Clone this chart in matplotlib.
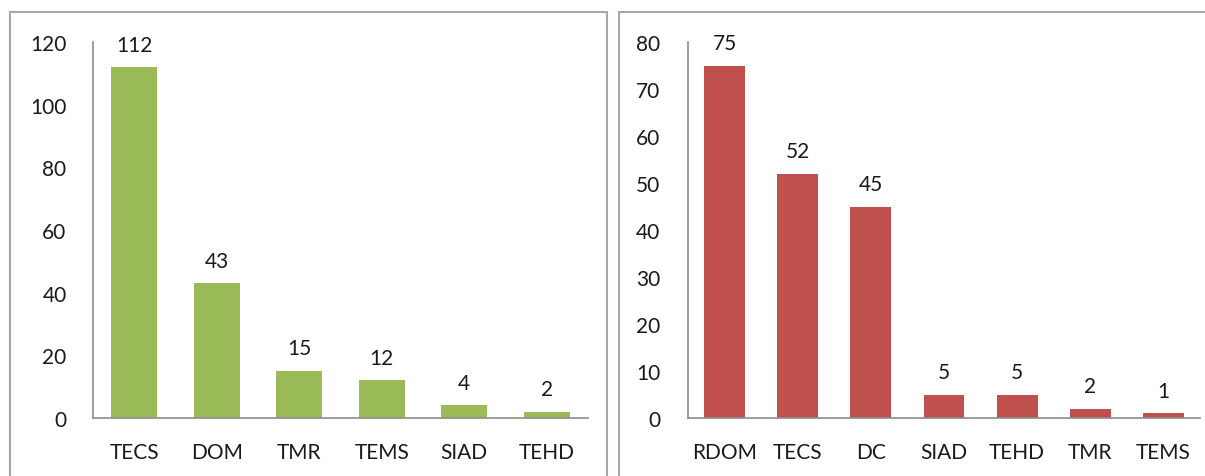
import matplotlib.pyplot as plt
from matplotlib.patches import Rectangle

left_cats = ['TECS', 'DOM', 'TMR', 'TEMS', 'SIAD', 'TEHD']
left_vals = [112, 43, 15, 12, 4, 2]
right_cats = ['RDOM', 'TECS', 'DC', 'SIAD', 'TEHD', 'TMR', 'TEMS']
right_vals = [75, 52, 45, 5, 5, 2, 1]

plt.rcParams['font.family'] = ['Lato', 'DejaVu Sans']

fig = plt.figure(figsize=(12.05, 4.77), dpi=100)

# panel frames
for x0, x1 in [(10, 607), (619, 1215)]:
    fig.patches.append(Rectangle((x0 / 1205, -0.1), (x1 - x0) / 1205, 1 - 13 / 477 + 0.1,
                                 transform=fig.transFigure, fill=False,
                                 edgecolor='#a6a6a6', linewidth=1.5))


def panel(rect, cats, vals, color, ymax, step, ypad):
    ax = fig.add_axes(rect)
    xs = range(len(cats))
    ax.bar(xs, vals, width=0.56, color=color)
    for x, v in zip(xs, vals):
        ax.annotate(str(v), (x, v), xytext=(0, 9), textcoords='offset points',
                    ha='center', va='bottom', fontsize=15, color='#1a1a1a')
    ax.set_ylim(0, ymax)
    ax.set_xlim(-0.5, len(cats) - 0.5)
    ax.set_yticks(range(0, ymax + 1, step))
    ax.set_xticks(list(xs))
    ax.set_xticklabels(cats)
    ax.tick_params(axis='both', length=0, labelsize=15, colors='#1a1a1a')
    ax.tick_params(axis='y', pad=ypad)
    ax.tick_params(axis='x', pad=17)
    for s in ['top', 'right']:
        ax.spines[s].set_visible(False)
    for s in ['left', 'bottom']:
        ax.spines[s].set_color('#8c8c8c')
        ax.spines[s].set_linewidth(1.2)
    return ax


panel([93 / 1205, 1 - 419 / 477, (588 - 93) / 1205, 376 / 477],
      left_cats, left_vals, '#9bbb59', 120, 20, 19)
panel([688 / 1205, 1 - 419 / 477, (1200 - 688) / 1205, 376 / 477],
      right_cats, right_vals, '#c0504d', 80, 10, 20)

fig.savefig('out.png', dpi=100)
